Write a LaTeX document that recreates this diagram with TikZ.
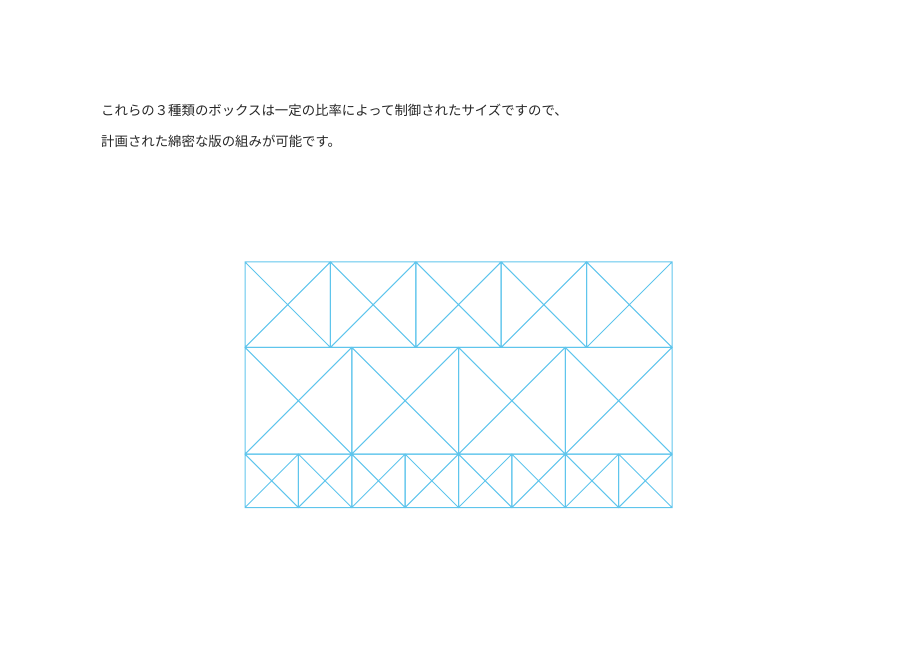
\documentclass[tikz,border=0pt]{standalone}
\usepackage{fontspec}
\newfontfamily\jpfont{Noto Sans CJK JP}
\definecolor{gridblue}{RGB}{95,197,236}
\tikzset{boxline/.style={draw=gridblue, line width=1pt},
  caption/.style={anchor=base west, inner sep=0pt, font=\jpfont\fontsize{13.4}{16}\selectfont, text=black!85}}
\begin{document}
\begin{tikzpicture}[x=1pt, y=-1pt]
\useasboundingbox (0,0) rectangle (924,660);

\draw (101,116) node (line1) [caption] {これらの３種類のボックスは一定の比率によって制御されたサイズですので、};
\draw (101,146.5) node (line2) [caption] {計画された綿密な版の組みが可能です。};

% row 1: five squares
\foreach \i in {0,...,4}
  \draw [boxline] (245+\i*85.4,262) rectangle +(85.4,85.4)
    (245+\i*85.4,262) -- +(85.4,85.4)
    (245+\i*85.4,347.4) -- +(85.4,-85.4);

% row 2: four squares
\foreach \i in {0,...,3}
  \draw [boxline] (245+\i*106.75,347.4) rectangle +(106.75,106.75)
    (245+\i*106.75,347.4) -- +(106.75,106.75)
    (245+\i*106.75,454.15) -- +(106.75,-106.75);

% row 3: eight squares
\foreach \i in {0,...,7}
  \draw [boxline] (245+\i*53.375,454.15) rectangle +(53.375,53.375)
    (245+\i*53.375,454.15) -- +(53.375,53.375)
    (245+\i*53.375,507.525) -- +(53.375,-53.375);

\end{tikzpicture}
\end{document}
